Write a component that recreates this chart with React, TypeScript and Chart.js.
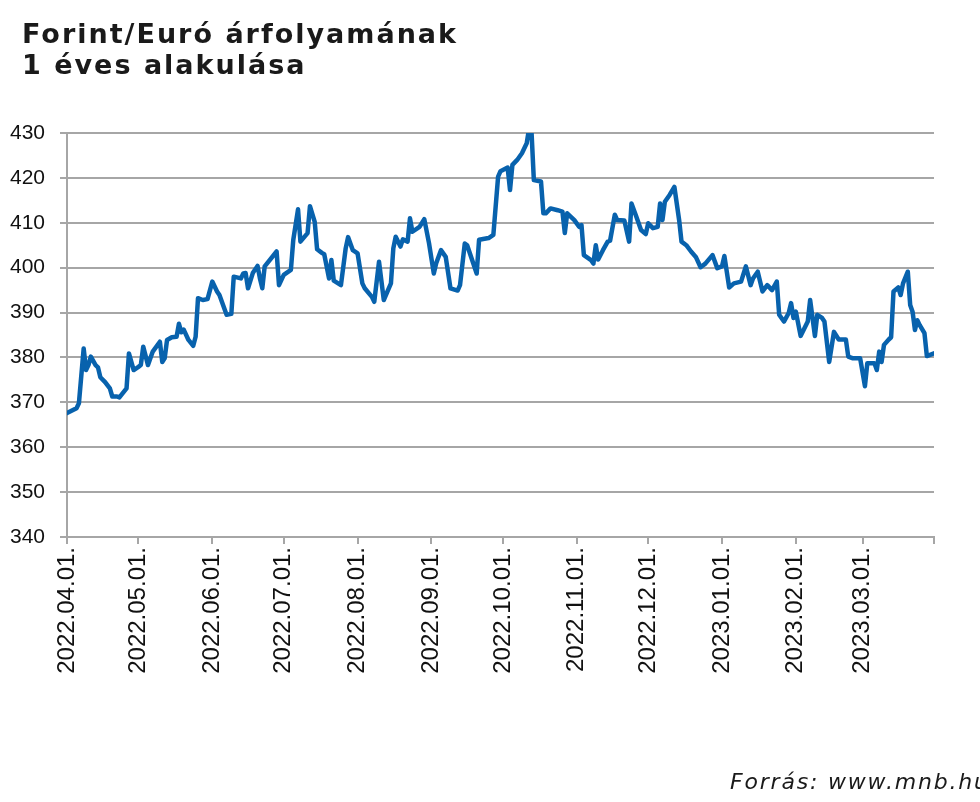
import React, { useEffect, useRef } from "react";
import { Chart, registerables } from "chart.js";

Chart.register(...registerables);

// ---- data ----
const dates: string[] = [
  "2022-04-01", "2022-04-05", "2022-04-06", "2022-04-08", "2022-04-09", "2022-04-10", "2022-04-11", "2022-04-13", "2022-04-14", "2022-04-15", "2022-04-17", "2022-04-19", "2022-04-20", "2022-04-22", "2022-04-23", "2022-04-26", "2022-04-27", "2022-04-29",
  "2022-05-01", "2022-05-02", "2022-05-03", "2022-05-05", "2022-05-07", "2022-05-10", "2022-05-11", "2022-05-12", "2022-05-13", "2022-05-15", "2022-05-17", "2022-05-18", "2022-05-19", "2022-05-20", "2022-05-22", "2022-05-24", "2022-05-25", "2022-05-26", "2022-05-28", "2022-05-30",
  "2022-06-01", "2022-06-03", "2022-06-04", "2022-06-07", "2022-06-09", "2022-06-10", "2022-06-13", "2022-06-14", "2022-06-15", "2022-06-16", "2022-06-18", "2022-06-20", "2022-06-21", "2022-06-22", "2022-06-23", "2022-06-28", "2022-06-29",
  "2022-07-01", "2022-07-04", "2022-07-05", "2022-07-07", "2022-07-08", "2022-07-11", "2022-07-12", "2022-07-14", "2022-07-15", "2022-07-17", "2022-07-18", "2022-07-20", "2022-07-21", "2022-07-22", "2022-07-25", "2022-07-27", "2022-07-28", "2022-07-30",
  "2022-08-01", "2022-08-03", "2022-08-04", "2022-08-07", "2022-08-08", "2022-08-10", "2022-08-12", "2022-08-15", "2022-08-16", "2022-08-17", "2022-08-19", "2022-08-20", "2022-08-22", "2022-08-23", "2022-08-24", "2022-08-27", "2022-08-29", "2022-08-31",
  "2022-09-02", "2022-09-03", "2022-09-05", "2022-09-07", "2022-09-09", "2022-09-12", "2022-09-13", "2022-09-15", "2022-09-16", "2022-09-20", "2022-09-21", "2022-09-25", "2022-09-27", "2022-09-29", "2022-09-30",
  "2022-10-03", "2022-10-04", "2022-10-05", "2022-10-07", "2022-10-09", "2022-10-11", "2022-10-12", "2022-10-13", "2022-10-14", "2022-10-17", "2022-10-18", "2022-10-19", "2022-10-21", "2022-10-24", "2022-10-26", "2022-10-27", "2022-10-28", "2022-10-31",
  "2022-11-02", "2022-11-03", "2022-11-04", "2022-11-07", "2022-11-08", "2022-11-09", "2022-11-10", "2022-11-12", "2022-11-14", "2022-11-15", "2022-11-17", "2022-11-18", "2022-11-21", "2022-11-23", "2022-11-24", "2022-11-26", "2022-11-28", "2022-11-30",
  "2022-12-01", "2022-12-03", "2022-12-05", "2022-12-06", "2022-12-07", "2022-12-08", "2022-12-10", "2022-12-12", "2022-12-14", "2022-12-15", "2022-12-17", "2022-12-19", "2022-12-21", "2022-12-23", "2022-12-25", "2022-12-28", "2022-12-30",
  "2023-01-01", "2023-01-02", "2023-01-04", "2023-01-06", "2023-01-09", "2023-01-11", "2023-01-13", "2023-01-14", "2023-01-16", "2023-01-18", "2023-01-20", "2023-01-22", "2023-01-24", "2023-01-25", "2023-01-27", "2023-01-29", "2023-01-30", "2023-01-31",
  "2023-02-01", "2023-02-03", "2023-02-06", "2023-02-07", "2023-02-09", "2023-02-10", "2023-02-12", "2023-02-13", "2023-02-15", "2023-02-17", "2023-02-19", "2023-02-22", "2023-02-23", "2023-02-25", "2023-02-28",
  "2023-03-02", "2023-03-03", "2023-03-06", "2023-03-07", "2023-03-08", "2023-03-09", "2023-03-10", "2023-03-12", "2023-03-13", "2023-03-14", "2023-03-16", "2023-03-17", "2023-03-18", "2023-03-20", "2023-03-21", "2023-03-22", "2023-03-23", "2023-03-24", "2023-03-25", "2023-03-27", "2023-03-28", "2023-03-31",
];

const eurHuf: number[] = [
  367.6, 368.7, 369.8, 382.0, 377.2, 378.3, 380.2, 378.3, 377.8, 375.6, 374.5, 373.1, 371.3, 371.3, 371.1, 373.1, 380.9, 377.2,
  377.9, 378.3, 382.4, 378.3, 381.3, 383.5, 379.0, 379.8, 383.9, 384.5, 384.6, 387.5, 385.6, 386.2, 383.9, 382.6, 384.6, 393.2, 392.8, 393.0,
  396.9, 394.7, 393.9, 389.5, 389.7, 398.0, 397.6, 398.7, 398.8, 395.4, 398.8, 400.4, 397.6, 395.4, 400.3, 403.6, 396.1,
  398.4, 399.5, 406.2, 413.0, 405.8, 407.7, 413.7, 410.2, 404.1, 403.3, 403.0, 397.6, 401.7, 397.1, 396.1, 404.3, 406.8, 403.9,
  403.2, 396.5, 395.4, 393.5, 392.4, 401.3, 392.8, 396.5, 404.3, 406.9, 404.7, 406.3, 405.8, 411.0, 408.0, 409.1, 410.8, 405.4,
  398.7, 401.0, 403.9, 402.4, 395.4, 394.9, 396.1, 405.4, 405.0, 398.7, 406.2, 406.6, 407.3, 420.3, 421.5,
  422.3, 417.3, 422.9, 424.0, 425.5, 427.7, 431.0, 430.5, 419.5, 419.2, 412.1, 412.1, 413.2, 412.8, 412.5, 407.7, 412.1, 410.6,
  409.1, 409.5, 402.8, 401.7, 400.9, 405.0, 401.8, 403.9, 405.8, 406.0, 411.8, 410.6, 410.5, 405.8, 414.3, 411.4, 408.4, 407.5,
  409.9, 408.8, 409.1, 414.3, 410.6, 414.7, 416.2, 418.0, 410.6, 405.8, 405.0, 403.6, 402.4, 400.1, 400.9, 402.8, 399.9,
  400.3, 402.6, 395.6, 396.5, 396.9, 400.3, 396.1, 397.6, 399.1, 394.7, 396.1, 395.0, 396.9, 389.5, 388.0, 389.9, 392.1, 388.8,
  390.2, 384.8, 388.0, 392.8, 384.8, 389.5, 388.8, 388.0, 379.0, 385.7, 384.0, 384.0, 380.2, 379.8, 379.8,
  373.6, 378.7, 378.7, 377.2, 381.3, 379.0, 382.8, 384.0, 384.5, 394.7, 395.6, 393.9, 396.5, 399.1, 391.7, 390.2, 386.1, 388.3, 387.2, 385.4, 380.3, 380.9,
];

const tickLabels: string[] = [
  "2022.04.01.", "2022.05.01.", "2022.06.01.", "2022.07.01.", "2022.08.01.", "2022.09.01.",
  "2022.10.01.", "2022.11.01.", "2022.12.01.", "2023.01.01.", "2023.02.01.", "2023.03.01.",
];
const axisStart = "2022.04.01.";
const axisEnd = "2023.03.31.";

const yMin = 340;
const yMax = 430;
const yStep = 10;

const titleLines = ["Forint/Euró árfolyamának", "1 éves alakulása"];
const sourceText = "Forrás: www.mnb.hu";

// ---- helpers ----
const DAY_MS = 86400000;
const parseDate = (s: string) => {
  const [y, m, d] = s.split(/[-.]/).filter(Boolean).map(Number);
  return Date.UTC(y, m - 1, d);
};
const START = parseDate(axisStart);
const toDay = (s: string) => Math.round((parseDate(s) - START) / DAY_MS);

const LINE_COLOR = "#0862ad";
const GRID_COLOR = "#a6a6a6";

export default function App() {
  const canvasRef = useRef<HTMLCanvasElement | null>(null);

  useEffect(() => {
    if (!canvasRef.current) return;
    const points = dates.map((d, i) => ({ x: toDay(d), y: eurHuf[i] }));
    const tickPos = tickLabels.map(toDay);
    const endDay = toDay(axisEnd);
    const labelMap: Record<number, string> = {};
    tickLabels.forEach((l, i) => (labelMap[tickPos[i]] = l));

    const chart = new Chart(canvasRef.current, {
      type: "line",
      data: {
        datasets: [
          {
            data: points,
            borderColor: LINE_COLOR,
            borderWidth: 4.5,
            pointRadius: 0,
            tension: 0,
            borderJoinStyle: "round",
            borderCapStyle: "round",
            fill: false,
          },
        ],
      },
      options: {
        animation: false,
        responsive: false,
        maintainAspectRatio: false,
        layout: { padding: { top: 133, left: 0, right: 46, bottom: 0 } },
        plugins: {
          legend: { display: false },
          tooltip: { enabled: false },
        },
        scales: {
          x: {
            type: "linear",
            min: 0,
            max: endDay,
            afterBuildTicks: (scale: any) => {
              scale.ticks = [...tickPos, endDay].map((v) => ({ value: v }));
            },
            afterFit: (scale: any) => {
              scale.height = 265;
            },
            ticks: {
              autoSkip: false,
              minRotation: 90,
              maxRotation: 90,
              padding: 3,
              color: "#111",
              font: { family: "'Liberation Sans', Arial, sans-serif", size: 24 },
              callback: (v: any) => labelMap[v as number] ?? "",
            },
            grid: {
              drawOnChartArea: false,
              drawTicks: true,
              tickLength: 7,
              color: GRID_COLOR,
              lineWidth: 2,
            },
            border: { display: true, color: GRID_COLOR, width: 2 },
          },
          y: {
            min: yMin,
            max: yMax,
            afterFit: (scale: any) => {
              scale.width = 67;
            },
            ticks: {
              stepSize: yStep,
              padding: 15,
              color: "#111",
              font: { family: "'Liberation Sans', Arial, sans-serif", size: 21 },
            },
            grid: {
              color: GRID_COLOR,
              lineWidth: 2,
              tickLength: 7,
              drawTicks: true,
            },
            border: { display: true, color: GRID_COLOR, width: 2 },
          },
        },
      },
    });
    return () => chart.destroy();
  }, []);

  return (
    <div
      style={{
        position: "absolute",
        left: 0,
        top: 0,
        width: 980,
        height: 802,
        overflow: "hidden",
        background: "#fff",
      }}
    >
      <canvas ref={canvasRef} width={980} height={802} style={{ position: "absolute", left: 0, top: 0 }} />
      <div
        style={{
          position: "absolute",
          left: 22,
          top: 18,
          fontFamily: "'DejaVu Sans', sans-serif",
          fontWeight: 700,
          fontSize: 27,
          letterSpacing: "2px",
          lineHeight: "31px",
          color: "#1a1a1a",
          whiteSpace: "nowrap",
        }}
      >
        {titleLines.map((t) => (
          <div key={t}>{t}</div>
        ))}
      </div>
      <div
        style={{
          position: "absolute",
          left: 730,
          top: 771,
          fontFamily: "'DejaVu Sans', sans-serif",
          fontStyle: "italic",
          fontSize: 22,
          letterSpacing: "1.8px",
          lineHeight: "22px",
          color: "#1a1a1a",
          whiteSpace: "nowrap",
        }}
      >
        {sourceText}
      </div>
    </div>
  );
}
